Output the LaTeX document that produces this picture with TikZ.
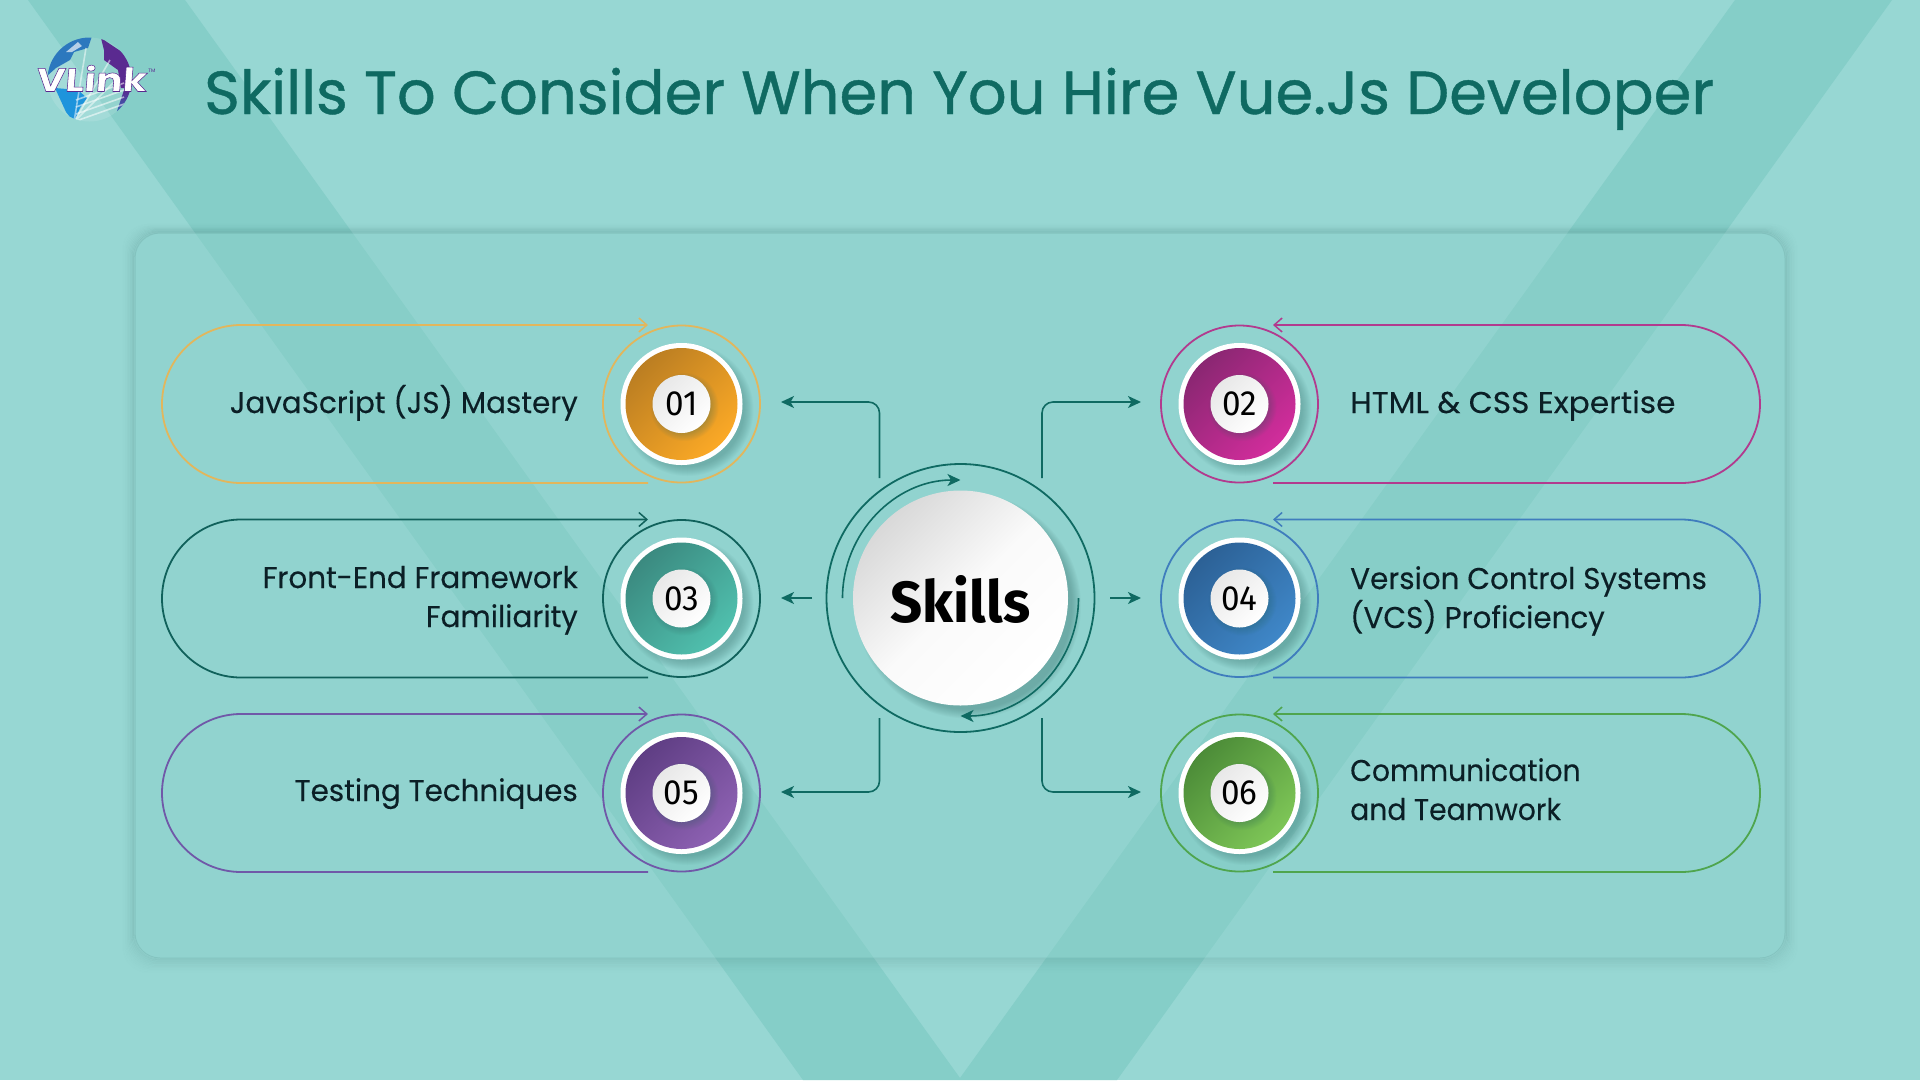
\documentclass[tikz,border=0pt]{standalone}
\usepackage{fontspec}
\usetikzlibrary{arrows.meta}
\setmainfont{Poppins}
\newfontfamily\ttlfont{Poppins}[FakeBold=0.7]
\newfontfamily\bodyfont{Poppins}[FakeStretch=0.98,FakeBold=0.25]
\newfontfamily\bodywide{Poppins}[FakeStretch=1.04,FakeBold=0.25]
\newfontfamily\bodynarrow{Poppins}[FakeStretch=0.94,FakeBold=0.25]
\newfontfamily\numfont{Fira Sans}[FakeStretch=0.95]
\newfontfamily\skillfont{Fira Sans}[FakeStretch=0.97]
\newfontfamily\logofont{Poppins}[FakeStretch=1.2,FakeSlant=0.08,FakeBold=1.6]
\definecolor{bgc}{HTML}{97D7D3}
\definecolor{vband}{HTML}{85CEC8}
\definecolor{panelc}{HTML}{8ACFC9}
\definecolor{teal1}{HTML}{0F6A62}
\definecolor{ink}{HTML}{0B1F26}
\definecolor{shc}{HTML}{2E6663}
\tikzset{
  pill/.style={line width=1.8pt},
  ring/.style={line width=1.8pt},
  conn/.style={teal1,line width=1.6pt,rounded corners=11pt,-{Stealth[length=13pt,width=12pt,inset=3.5pt]}},
  barb/.style={-{Straight Barb[length=8pt,width=14pt,line width=1.5pt]}},
  lbl/.style={font=\bodyfont\fontsize{30}{38}\selectfont,text=ink,inner sep=0pt,align=right},
  lbr/.style={font=\bodyfont\fontsize{30}{38}\selectfont,text=ink,inner sep=0pt,align=left},
  lbw/.style={font=\bodywide\fontsize{30}{38}\selectfont,text=ink,inner sep=0pt,align=left},
  lbn/.style={font=\bodynarrow\fontsize{30}{38}\selectfont,text=ink,inner sep=0pt,align=left},
  numlab/.style={font=\numfont\fontsize{35}{35}\selectfont,text=black,inner sep=0pt},
}
\newcommand{\softshadow}[5]{%
  \foreach \k in {0,...,9}{\fill[shc,opacity=#5] ({#1+#4},{#2+#4}) circle [radius={#3+5-\k}];}}
\newcommand{\badge}[7]{% name,x,y,ringcol,dark,light,num
  \draw[ring,draw=#4] (#2,#3) circle [radius=78.5];
  \softshadow{#2}{#3}{61}{6}{0.035}
  \fill[white] (#2,#3) circle [radius=61];
  \shade[top color=#5,bottom color=#6,shading angle=45] (#2,#3) circle [radius=56];
  \softshadow{#2}{#3}{29}{3}{0.035}
  \node[circle,minimum size=58pt,inner sep=0pt,top color=gray!18,bottom color=white,shading angle=45] (#1) at (#2,#3) {};
  \node[numlab] at (#2,#3) {#7};
}
\definecolor{o1}{HTML}{BB7E22}\definecolor{o2}{HTML}{FBA926}\definecolor{oR}{HTML}{E2B65C}
\definecolor{m1}{HTML}{8A2772}\definecolor{m2}{HTML}{D22D9C}\definecolor{mR}{HTML}{B23A8E}
\definecolor{t1}{HTML}{3B8A80}\definecolor{t2}{HTML}{50C0AE}\definecolor{tR}{HTML}{10615B}
\definecolor{b1}{HTML}{2C6196}\definecolor{b2}{HTML}{3F87C8}\definecolor{bR}{HTML}{3F7DBD}
\definecolor{p1}{HTML}{5F3E84}\definecolor{p2}{HTML}{8D61B2}\definecolor{pR}{HTML}{7058A8}
\definecolor{g1}{HTML}{4C8C38}\definecolor{g2}{HTML}{7EC657}\definecolor{gR}{HTML}{4FA54E}
\definecolor{lblue}{HTML}{2C78BE}\definecolor{lsky}{HTML}{1E94DC}\definecolor{lpur}{HTML}{5A2A90}
\begin{document}
\begin{tikzpicture}[x=1pt,y=-1pt]
\useasboundingbox (0,0) rectangle (1920,1080);
\fill[bgc] (0,0) rectangle (1920,1080);
\fill[vband] (28,0) -- (185,0) -- (960,1078) -- (1735,0) -- (1892,0) -- (1117,1080) -- (803,1080) -- cycle;
% panel shadow and panel
\foreach \k in {1,...,12}{
  \draw[shc,opacity={0.13*(1-\k/13)*(1-\k/13)},line width=1.6pt,rounded corners=25pt]
    ({135-\k*1.1},{233-\k*0.8}) rectangle ({1785+\k*1.1},{958+\k*1.3});}
\fill[panelc,opacity=0.4,rounded corners=25pt] (135,233) rectangle (1785,958);
\draw[shc,opacity=0.14,line width=1pt,rounded corners=25pt] (135,233) rectangle (1785,958);
% logo
\begin{scope}
  \clip (89.5,79.5) circle [radius=42];
  \fill[white,opacity=0.12] (89.5,79.5) circle [radius=42];
  \fill[lblue] (47,36) -- (92,36) -- (88,48) -- (74,52) -- (70,60) -- (56,68) -- (47,76) -- cycle;
  \fill[white,opacity=0.65] (66,52) -- (78,42) -- (82,46) -- (72,52) -- cycle;
  \fill[lpur] (101,38) -- (134,60) -- (134,88) -- (121,88) -- (118,70) -- (104,60) -- (104,50) -- cycle;
  \shade[top color=lpur,bottom color=lblue] (124,90) -- (134,90) -- (128,118) -- (116,114) -- cycle;
  \fill[lsky] (55,88) -- (78,90) -- (87,98) -- (80,108) -- (74,122) -- (66,112) -- cycle;
  \foreach \a/\b in {86/48,110/60,118/78}{\draw[white,opacity=0.5,line width=1.6pt] (74,122) -- (\a,\b);}
  \foreach \d in {0,7,14,21}{\draw[white,opacity=0.55,line width=1.6pt] (76,{121-\d}) -- (124,{104-\d});}
\end{scope}
\node[font=\logofont\bfseries\fontsize{33}{33}\selectfont,text=white,inner sep=0pt,anchor=base] (logo) at (91,91.5) {\special{pdf:code 0.35 0.16 0.56 RG}VLink};
\node[font=\fontsize{5}{5}\selectfont,text=lpur,inner sep=0pt] (tm) at (152,71) {TM};
% title
\node[font=\ttlfont\fontsize{60.8}{60.8}\selectfont,text=teal1,inner sep=0pt,anchor=base west] (title) at (204,114) {Skills To Consider When You Hire Vue.Js Developer};
% centre
\draw[ring,draw=teal1] (960.5,598) circle [radius=134];
\softshadow{960.5}{598}{107.5}{8}{0.04}
\node[circle,minimum size=215pt,inner sep=0pt,top color=gray!30,bottom color=white,middle color=white!96!gray,shading angle=45] (skills) at (960.5,598) {};
\node[font=\skillfont\bfseries\fontsize{58}{58}\selectfont,text=black,inner sep=0pt] (skilltxt) at (960.5,599) {Skills};
\draw[teal1,line width=1.6pt,-{Stealth[length=13pt,width=12pt,inset=3.5pt]}] (842.5,598) arc [start angle=180,end angle=270,radius=118];
\draw[teal1,line width=1.6pt,-{Stealth[length=13pt,width=12pt,inset=3.5pt]}] (1078.5,598) arc [start angle=0,end angle=90,radius=118];
% badges
\badge{n1}{681.5}{404}{oR}{o1}{o2}{01}
\badge{n2}{1239.5}{404}{mR}{m1}{m2}{02}
\badge{n3}{681.5}{598.5}{tR}{t1}{t2}{03}
\badge{n4}{1239.5}{598.5}{bR}{b1}{b2}{04}
\badge{n5}{681.5}{793}{pR}{p1}{p2}{05}
\badge{n6}{1239.5}{793}{gR}{g1}{g2}{06}
% pills
\foreach \yy/\cc/\nn in {404/oR/a,598.5/tR/b,793/pR/c}{
  \coordinate (pl\nn a) at (648,\yy-79); \coordinate (pl\nn b) at (648,\yy+79);
  \draw[pill,draw=\cc,barb] (pl\nn b) -- (241,\yy+79) arc [start angle=90,end angle=270,radius=79] -- (pl\nn a);
}
\foreach \yy/\cc/\nn in {404/mR/a,598.5/bR/b,793/gR/c}{
  \coordinate (pr\nn a) at (1273,\yy-79); \coordinate (pr\nn b) at (1273,\yy+79);
  \draw[pill,draw=\cc,barb] (pr\nn b) -- (1681,\yy+79) arc [start angle=90,end angle=-90,radius=79] -- (pr\nn a);
}
% connectors
\coordinate (c1) at (879.5,478); \coordinate (c2) at (1042,478);
\coordinate (c3) at (812,598); \coordinate (c4) at (1110,598);
\coordinate (c5) at (879.5,718); \coordinate (c6) at (1042,718);
\coordinate (e1) at (781,402); \coordinate (e2) at (1141,402);
\coordinate (e3) at (781,598); \coordinate (e4) at (1141,598);
\coordinate (e5) at (781,792); \coordinate (e6) at (1141,792);
\draw[conn] (c1) |- (e1);
\draw[conn] (c2) |- (e2);
\draw[conn] (c3) -- (e3);
\draw[conn] (c4) -- (e4);
\draw[conn] (c5) |- (e5);
\draw[conn] (c6) |- (e6);
% labels
\node[lbl,anchor=base east] (t1) at (578,413) {JavaScript (JS) Mastery};
\node[lbl,anchor=base east] (t3a) at (578,588) {Front-End Framework};
\node[lbl,anchor=base east] (t3b) at (578,627) {Familiarity};
\node[lbl,anchor=base east] (t5) at (578,801) {Testing Techniques};
\node[lbw,anchor=base west] (t2) at (1350,413) {HTML \& CSS Expertise};
\node[lbr,anchor=base west] (t4a) at (1350,589) {Version Control Systems};
\node[lbr,anchor=base west] (t4b) at (1350,628) {(VCS) Proficiency};
\node[lbn,anchor=base west] (t6a) at (1350,781) {Communication};
\node[lbn,anchor=base west] (t6b) at (1350,820) {and Teamwork};
\end{tikzpicture}
\end{document}
